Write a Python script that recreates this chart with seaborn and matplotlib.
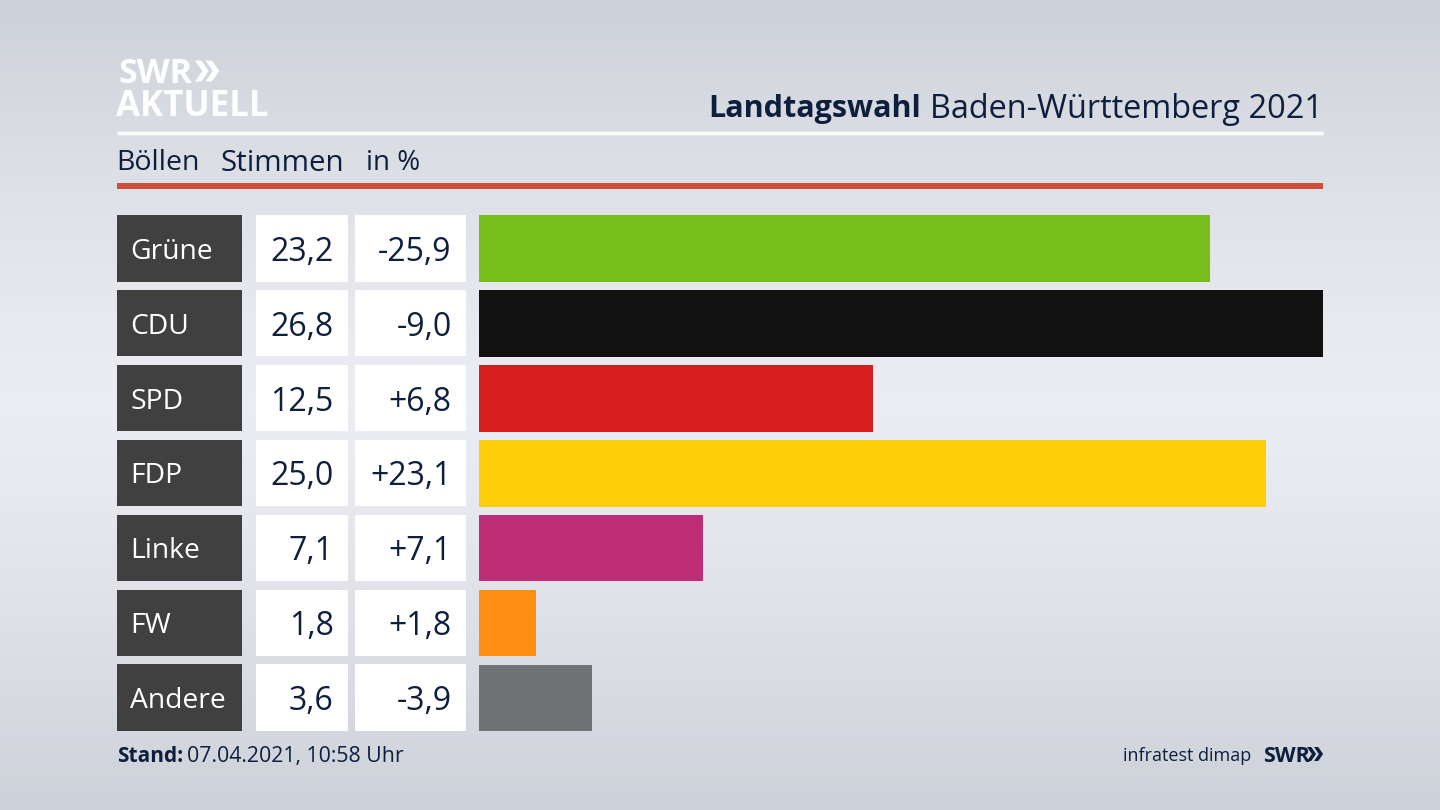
import numpy as np
import pandas as pd
import matplotlib
matplotlib.use("Agg")
import matplotlib.pyplot as plt
from matplotlib.patches import Rectangle, Polygon
import seaborn as sns

parties = ["Grüne", "CDU", "SPD", "FDP", "Linke", "FW", "Andere"]
stimmen = [23.2, 26.8, 12.5, 25.0, 7.1, 1.8, 3.6]
diff = ["-25,9", "-9,0", "+6,8", "+23,1", "+7,1", "+1,8", "-3,9"]
colors = ["#78BE1A", "#111111", "#D81F1F", "#FFCE0A", "#BE2E76", "#FF8F14", "#717274"]

NAVY = "#0E1F3D"
df = pd.DataFrame({"partei": parties, "stimmen": stimmen})

sns.set_theme(style="white")
plt.rcParams["font.family"] = ["Open Sans", "DejaVu Sans"]

fig = plt.figure(figsize=(14.4, 8.1), dpi=100)

# background gradient, lighter in the middle
bg = fig.add_axes([0, 0, 1, 1], zorder=0)
grad = 1 - np.abs(np.linspace(-1, 1, 256)) ** 1.3
bg.imshow(grad[:, None], aspect="auto", cmap=matplotlib.colors.LinearSegmentedColormap.from_list("bg", ["#CDD1D9", "#ECEDF2"]))
bg.axis("off")

# overlay in pixel coordinates for header, table cells
ov = fig.add_axes([0, 0, 1, 1], zorder=1)
ov.set_xlim(0, 1440)
ov.set_ylim(810, 0)
ov.axis("off")
ov.patch.set_alpha(0)


def chevrons(x, y, size, color):
    # the two arrows of the SWR logo
    w = size * 0.35
    t = size * 0.3
    for dx in (0, size * 0.5):
        pts = [(x + dx, y - size / 2), (x + dx + t, y - size / 2), (x + dx + t + w, y),
               (x + dx + t, y + size / 2), (x + dx, y + size / 2), (x + dx + w, y)]
        ov.add_patch(Polygon(pts, closed=True, color=color, lw=0))


ov.text(118, 70, "SWR", color="white", fontsize=24.5, fontweight="bold", va="center_baseline", ha="left")
chevrons(195, 71, 21, "white")
ov.text(116, 103, "AKTUELL", color="white", fontsize=25, fontweight="bold", va="center_baseline", ha="left")

ov.text(921, 106, "Landtagswahl", color=NAVY, fontsize=22, fontweight="bold", va="center_baseline", ha="right")
ov.text(1323, 106, "Baden-Württemberg 2021", color=NAVY, fontsize=23.4, va="center_baseline", ha="right")
ov.plot([117, 1323], [133, 133], color="white", lw=2.5, solid_capstyle="butt")

ov.text(116.5, 160, "Böllen", color=NAVY, fontsize=20.5, va="center_baseline")
ov.text(221, 160, "Stimmen", color=NAVY, fontsize=21.3, va="center_baseline")
ov.text(366, 160, "in %", color=NAVY, fontsize=20, va="center_baseline")
ov.add_patch(Rectangle((117, 183), 1206, 6, color="#CF4F3A", lw=0))

top = 215
step = 74.9
h = 66.5
for i, p in enumerate(parties):
    y = top + i * step
    ov.add_patch(Rectangle((117, y), 125, h, color="#404040", lw=0))
    ov.add_patch(Rectangle((256, y), 92, h, color="white", lw=0))
    ov.add_patch(Rectangle((355, y), 111, h, color="white", lw=0))
    ov.text(130.5, y + h / 2, p, color="white", fontsize=20.3, va="center_baseline")
    ov.text(333.5, y + h / 2, f"{stimmen[i]:.1f}".replace(".", ","), color=NAVY, fontsize=23, va="center_baseline", ha="right")
    ov.text(451.5, y + h / 2, diff[i], color=NAVY, fontsize=23, va="center_baseline", ha="right")

ov.text(117, 754, "Stand:", color=NAVY, fontsize=15, fontweight="bold", va="center_baseline")
ov.text(187, 754, "07.04.2021, 10:58 Uhr", color=NAVY, fontsize=15.3, va="center_baseline")
ov.text(1251, 754, "infratest dimap", color=NAVY, fontsize=13, va="center_baseline", ha="right")
ov.text(1263, 754, "SWR", color=NAVY, fontsize=15.5, fontweight="bold", va="center_baseline")
chevrons(1307, 754, 14, NAVY)

# bars, axes span x 479-1323 and y 211-735 px
ax = fig.add_axes([479 / 1440, 1 - 735.5 / 810, (1323 - 479) / 1440, (735.5 - 211) / 810], zorder=2)
ax.patch.set_alpha(0)
sns.barplot(data=df, y="partei", x="stimmen", hue="partei", palette=colors, legend=False,
            width=0.888, saturation=1, linewidth=0, ax=ax)
ax.set_xlim(0, 26.8)
ax.axis("off")

fig.savefig("out.png", dpi=100)
